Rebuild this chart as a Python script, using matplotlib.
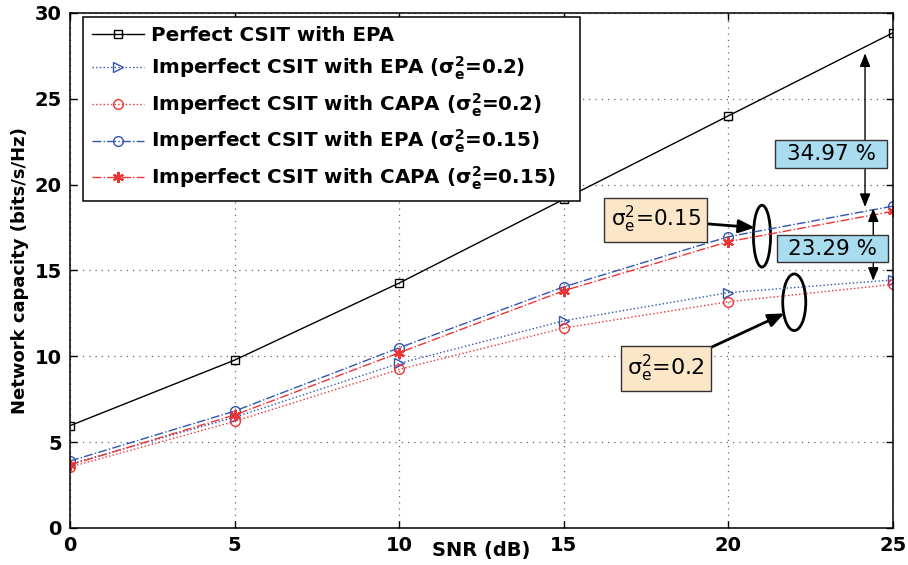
import matplotlib
matplotlib.use("Agg")
import matplotlib.pyplot as plt
from matplotlib.patches import Ellipse, Rectangle

plt.rcParams['font.family'] = ['DejaVu Sans']
plt.rcParams['mathtext.fontset'] = 'dejavusans'
plt.rcParams['mathtext.default'] = 'regular'

snr_db = [0, 5, 10, 15, 20, 25]
perfect_epa = [5.96, 9.78, 14.27, 19.15, 24.01, 28.85]
imperfect_epa_02 = [3.72, 6.45, 9.59, 12.07, 13.71, 14.45]
imperfect_capa_02 = [3.55, 6.21, 9.24, 11.65, 13.18, 14.19]
imperfect_epa_015 = [3.90, 6.81, 10.50, 14.05, 16.97, 18.75]
imperfect_capa_015 = [3.67, 6.58, 10.21, 13.82, 16.68, 18.45]

labels = [
    'Perfect CSIT with EPA',
    r'Imperfect CSIT with EPA ($\sigma_e^2$=0.2)',
    r'Imperfect CSIT with CAPA ($\sigma_e^2$=0.2)',
    r'Imperfect CSIT with EPA ($\sigma_e^2$=0.15)',
    r'Imperfect CSIT with CAPA ($\sigma_e^2$=0.15)',
]
gap_labels = ['34.97 %', '23.29 %']
sigma_labels = [r'$\sigma_e^2$=0.15', r'$\sigma_e^2$=0.2']

blue = '#3355b0'
red = '#ee3333'
asterisk = (6, 2, 0)

fig = plt.figure(figsize=(9.08, 5.65), dpi=100)
ax = fig.add_axes([0.0771, 0.0655, 0.9064, 0.9115])

ax.plot(snr_db, perfect_epa, color='black', lw=1.0, ls='-', marker='s',
        ms=6, mfc='none', mec='black', label=labels[0])
ax.plot(snr_db, imperfect_epa_02, color=blue, lw=1.0, ls=':', marker='>',
        ms=7, mfc='none', mec=blue, label=labels[1])
ax.plot(snr_db, imperfect_capa_02, color=red, lw=1.0, ls=':', marker='o',
        ms=7, mfc='none', mec=red, label=labels[2])
ax.plot(snr_db, imperfect_epa_015, color=blue, lw=1.0, ls='-.', marker='o',
        ms=7, mfc='none', mec=blue, label=labels[3])
ax.plot(snr_db, imperfect_capa_015, color=red, lw=1.0, ls='-.',
        marker=asterisk, ms=8, mew=1.5, mfc=red, mec=red, label=labels[4])

ax.set_xlim(0, 25)
ax.set_ylim(0, 30)
ax.set_xticks(range(0, 26, 5))
ax.set_yticks(range(0, 31, 5))
ax.tick_params(direction='in', top=True, right=True, length=5, width=1,
               labelsize=14, pad=6)
for t in ax.get_xticklabels() + ax.get_yticklabels():
    t.set_fontweight('bold')
ax.grid(True, color='#666666', ls=(0, (1, 4)), lw=0.9)
for s in ax.spines.values():
    s.set_linewidth(1.1)

ax.set_xlabel('SNR (dB)', fontsize=14, fontweight='bold', labelpad=-10)
ax.set_ylabel('Network capacity (bits/s/Hz)', fontsize=13,
              fontweight='bold', labelpad=4)

leg = ax.legend(loc='upper left', bbox_to_anchor=(0.016, 0.6, 0.604, 0.392),
                mode='expand', prop={'weight': 'bold', 'size': 14.3},
                handlelength=2.6, labelspacing=0.47, borderpad=0.45,
                handletextpad=0.35, borderaxespad=0, fancybox=False,
                framealpha=1, edgecolor='black')
leg.get_frame().set_linewidth(1.1)

# percentage gaps between the curves at SNR = 25 dB
gap_arrow = dict(arrowstyle='<|-|>,head_length=0.5,head_width=0.2',
                 color='black', lw=1.0, mutation_scale=16,
                 shrinkA=0, shrinkB=0)
ax.annotate('', xy=(24.15, 27.65), xytext=(24.15, 18.7), arrowprops=gap_arrow)
ax.annotate('', xy=(24.4, 18.62), xytext=(24.4, 14.4), arrowprops=gap_arrow)
for (x0, x1, y0, y1), txt in zip([(21.42, 24.82, 20.97, 22.6),
                                  (21.48, 24.85, 15.49, 17.06)], gap_labels):
    ax.add_patch(Rectangle((x0, y0), x1 - x0, y1 - y0, fc='#a8dcee',
                           ec='#333333', lw=1.0, zorder=4))
    ax.text((x0 + x1) / 2, (y0 + y1) / 2, txt, fontsize=15.5, ha='center',
            va='center', zorder=5)

# groups of curves with equal estimation error
ax.add_patch(Ellipse((21.02, 17.0), 0.52, 3.6, fill=False, ec='black', lw=2))
ax.add_patch(Ellipse((22.0, 13.15), 0.70, 3.3, fill=False, ec='black', lw=2))

box_beige = dict(boxstyle='square,pad=0.3', fc='#fbe6c8', ec='#333333', lw=1.0)
sigma_arrow = dict(arrowstyle='-|>,head_length=0.6,head_width=0.25',
                   color='black', lw=2, mutation_scale=16,
                   shrinkA=0, shrinkB=0)
ax.annotate(sigma_labels[0], xy=(20.8, 17.5), xytext=(17.8, 17.95),
            fontsize=15.5, ha='center', va='center', bbox=box_beige,
            arrowprops=sigma_arrow)
ax.annotate(sigma_labels[1], xy=(21.7, 12.5), xytext=(18.1, 9.3),
            fontsize=16, ha='center', va='center', bbox=box_beige,
            arrowprops=sigma_arrow)

fig.savefig('out.png', dpi=100)
